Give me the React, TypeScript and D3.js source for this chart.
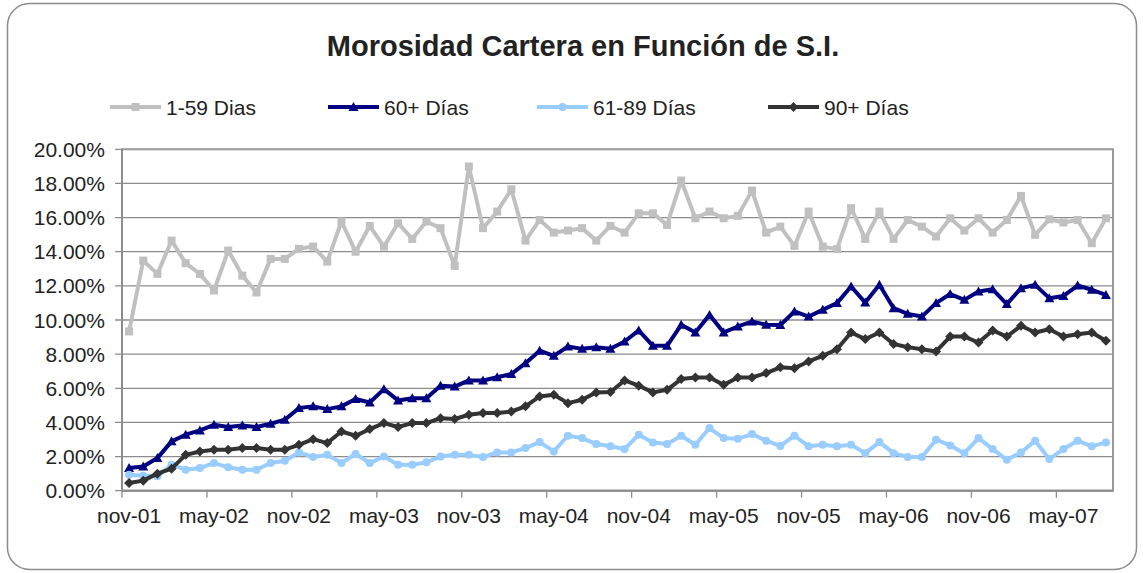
import { useMemo } from "react";
import * as d3 from "d3";

const WIDTH = 1143;
const HEIGHT = 573;

const TITLE = "Morosidad Cartera en Función de S.I.";

// one category per month, nov-01 .. aug-07
const MONTHS = d3.timeMonth.range(new Date(2001, 10, 1), new Date(2007, 8, 1));
const TICK_EVERY = 6;
const monthFmt = (d: Date) => {
  const m = ["ene", "feb", "mar", "abr", "may", "jun", "jul", "ago", "sep", "oct", "nov", "dic"][d.getMonth()];
  return `${m}-${String(d.getFullYear() % 100).padStart(2, "0")}`;
};

const SERIES_NAMES = ["1-59 Dias", "60+ Días", "61-89 Días", "90+ Días"];
const SERIES_COLORS = ["#C0C0C0", "#000080", "#99CCFF", "#333333"];
const SERIES_MARKERS = ["square", "triangle", "circle", "diamond"];

const D1_59 = [
  9.33, 13.48, 12.7, 14.65, 13.33, 12.7, 11.73, 14.07, 12.6, 11.61, 13.58, 13.58,
  14.17, 14.3, 13.42, 15.77, 14.0, 15.51, 14.3, 15.67, 14.75, 15.77, 15.38,
  13.17, 18.99, 15.38, 16.35, 17.66, 14.65, 15.86, 15.12, 15.24, 15.38, 14.65, 15.51,
  15.12, 16.25, 16.25, 15.57, 18.17, 15.96, 16.35, 15.96, 16.1, 17.58, 15.12, 15.47,
  14.34, 16.35, 14.3, 14.15, 16.55, 14.75, 16.35, 14.75, 15.86, 15.47, 14.89,
  15.96, 15.24, 15.96, 15.12, 15.86, 17.27, 14.99, 15.9, 15.71, 15.86, 14.5, 15.96,
];
const D60_PLUS = [
  1.33, 1.42, 1.91, 2.89, 3.28, 3.53, 3.86, 3.73, 3.82, 3.73, 3.92, 4.16,
  4.84, 4.94, 4.78, 4.94, 5.37, 5.17, 5.95, 5.29, 5.42, 5.42, 6.15,
  6.1, 6.46, 6.46, 6.65, 6.83, 7.47, 8.2, 7.9, 8.45, 8.31, 8.41, 8.31,
  8.74, 9.39, 8.49, 8.49, 9.72, 9.27, 10.3, 9.27, 9.62, 9.91, 9.72, 9.7,
  10.5, 10.2, 10.6, 10.99, 11.96, 11.02, 12.06, 10.69, 10.36, 10.2, 10.99,
  11.52, 11.18, 11.67, 11.8, 10.93, 11.86, 12.06, 11.28, 11.41, 12.02, 11.77, 11.47,
];
const D61_89 = [
  0.94, 0.88, 0.85, 1.52, 1.23, 1.33, 1.62, 1.37, 1.23, 1.23, 1.62, 1.76,
  2.24, 1.97, 2.1, 1.62, 2.15, 1.62, 2.0, 1.52, 1.52, 1.66, 2.0,
  2.1, 2.1, 1.97, 2.24, 2.24, 2.5, 2.85, 2.3, 3.22, 3.08, 2.73, 2.6,
  2.44, 3.28, 2.83, 2.73, 3.22, 2.69, 3.67, 3.08, 3.04, 3.32, 2.93, 2.62,
  3.22, 2.6, 2.69, 2.6, 2.69, 2.2, 2.85, 2.2, 1.97, 1.97, 2.99,
  2.65, 2.2, 3.08, 2.44, 1.81, 2.24, 2.93, 1.85, 2.44, 2.93, 2.6, 2.83,
];
const D90_PLUS = [
  0.45, 0.59, 1.0, 1.29, 2.1, 2.3, 2.4, 2.4, 2.5, 2.5, 2.4, 2.4,
  2.69, 3.02, 2.79, 3.47, 3.22, 3.61, 3.96, 3.73, 3.96, 3.96, 4.25,
  4.2, 4.45, 4.55, 4.55, 4.64, 4.94, 5.52, 5.62, 5.13, 5.33, 5.76, 5.78,
  6.46, 6.15, 5.76, 5.91, 6.54, 6.63, 6.63, 6.2, 6.63, 6.63, 6.89, 7.23,
  7.18, 7.57, 7.9, 8.29, 9.27, 8.88, 9.27, 8.59, 8.41, 8.29, 8.16,
  9.03, 9.03, 8.68, 9.39, 9.03, 9.66, 9.27, 9.46, 9.03, 9.17, 9.27, 8.78,
];
const SERIES = [D1_59, D60_PLUS, D61_89, D90_PLUS];

const Y_TICKS = [0, 2, 4, 6, 8, 10, 12, 14, 16, 18, 20];

const PLOT = { left: 122, right: 1113, top: 149.3, bottom: 490.7 };
const FONT = "'Liberation Sans', Arial, sans-serif";

function Marker({ kind, x, y, color }: { kind: string; x: number; y: number; color: string }) {
  if (kind === "square") return <rect x={x - 4} y={y - 4} width={8} height={8} fill={color} />;
  if (kind === "circle") return <circle cx={x} cy={y} r={4} fill={color} />;
  if (kind === "triangle")
    return <path d={`M${x},${y - 5}L${x + 5},${y + 4}L${x - 5},${y + 4}Z`} fill={color} />;
  return <path d={`M${x},${y - 5}L${x + 5},${y}L${x},${y + 5}L${x - 5},${y}Z`} fill={color} />;
}

export default function App() {
  const x = useMemo(
    () => d3.scaleBand<number>().domain(d3.range(MONTHS.length)).range([PLOT.left, PLOT.right]).paddingInner(0).paddingOuter(0),
    []
  );
  const y = d3.scaleLinear().domain([0, 20]).range([PLOT.bottom, PLOT.top]);
  const bw = x.bandwidth();
  const cx = (i: number) => (x(i) ?? 0) + bw / 2;

  const line = d3.line<number>().x((_, i) => cx(i)).y((d) => y(d));

  const tickIdx = d3.range(0, MONTHS.length, TICK_EVERY);
  const legendX = [110, 328, 537, 768];

  return (
    <svg
      width={WIDTH}
      height={HEIGHT}
      style={{ position: "absolute", left: 0, top: 0, display: "block", background: "#fff" }}
      fontFamily={FONT}
    >
      <rect x={7.5} y={3.5} width={1129} height={566} rx={22} fill="#fff" stroke="#8c8c8c" strokeWidth={1.5} />

      <text x={583} y={56} textAnchor="middle" fontSize={29} fontWeight={700} fill="#222">
        {TITLE}
      </text>

      {/* legend */}
      {SERIES_NAMES.map((name, k) => (
        <g key={name}>
          <line x1={legendX[k]} x2={legendX[k] + 51} y1={107} y2={107} stroke={SERIES_COLORS[k]} strokeWidth={4} />
          <Marker kind={SERIES_MARKERS[k]} x={legendX[k] + 25.5} y={107} color={SERIES_COLORS[k]} />
          <text x={legendX[k] + 56} y={114.5} fontSize={21} fill="#222">
            {name}
          </text>
        </g>
      ))}

      {/* gridlines */}
      {Y_TICKS.map((t) => (
        <line key={t} x1={PLOT.left - 7} x2={PLOT.right} y1={y(t)} y2={y(t)} stroke="#8c8c8c" strokeWidth={1.3} />
      ))}
      <rect
        x={PLOT.left}
        y={PLOT.top}
        width={PLOT.right - PLOT.left}
        height={PLOT.bottom - PLOT.top}
        fill="none"
        stroke="#9a9a9a"
        strokeWidth={2}
      />
      <line x1={PLOT.left} x2={PLOT.left} y1={PLOT.top} y2={PLOT.bottom} stroke="#8c8c8c" strokeWidth={2} />
      <line x1={PLOT.left} x2={PLOT.right} y1={PLOT.bottom} y2={PLOT.bottom} stroke="#8c8c8c" strokeWidth={2} />

      {/* y labels */}
      {Y_TICKS.map((t) => (
        <text key={t} x={105} y={y(t) + 7.5} textAnchor="end" fontSize={21} fill="#222">
          {d3.format(".2f")(t)}%
        </text>
      ))}

      {/* x ticks + labels */}
      {tickIdx.map((i) => (
        <g key={i}>
          <line x1={x(i)} x2={x(i)} y1={PLOT.bottom} y2={PLOT.bottom + 7} stroke="#8c8c8c" strokeWidth={1.3} />
          <text x={cx(i)} y={523} textAnchor="middle" fontSize={21} fill="#222">
            {monthFmt(MONTHS[i])}
          </text>
        </g>
      ))}

      {/* series */}
      {SERIES.map((vals, k) => (
        <g key={k}>
          <path d={line(vals) ?? ""} fill="none" stroke={SERIES_COLORS[k]} strokeWidth={4} strokeLinejoin="round" />
          {vals.map((v, i) => (
            <Marker key={i} kind={SERIES_MARKERS[k]} x={cx(i)} y={y(v)} color={SERIES_COLORS[k]} />
          ))}
        </g>
      ))}
    </svg>
  );
}
